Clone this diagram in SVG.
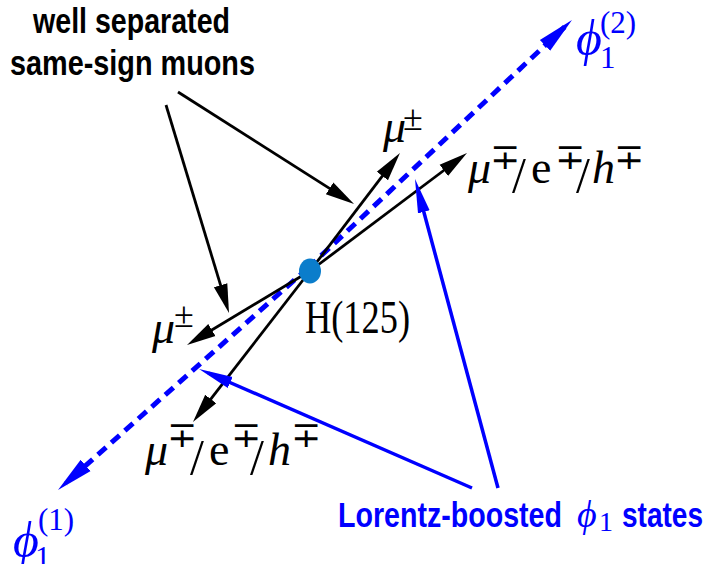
<svg xmlns="http://www.w3.org/2000/svg" width="708" height="564" viewBox="0 0 708 564">
<style>
.lab{font-family:"Liberation Sans Narrow","Liberation Sans",Arial,sans-serif;font-weight:bold;font-size:35px;fill:#000}
.blab{fill:#0000ff}
.m{font-family:"Liberation Serif","DejaVu Serif",serif;font-size:46px;font-weight:normal;fill:#000}
.mb{fill:#0000ff}
.i{font-style:italic}
.s{font-size:31px}
.pm{font-size:36px}
.sl{font-size:50px}
.bk{stroke:#000;stroke-width:2.8;fill:none}
.bl{stroke:#0000ff;stroke-width:3.5;fill:none}
.bd{stroke:#0000ff;stroke-width:5;fill:none;stroke-dasharray:11 7}
</style>
<defs>
<marker id="ak" markerUnits="userSpaceOnUse" markerWidth="40" markerHeight="20" viewBox="0 -10 40 20" refX="19" refY="0" orient="auto">
<path d="M0,-7 L29,0 L0,7 z" fill="#000"/>
</marker>
<marker id="ab" markerUnits="userSpaceOnUse" markerWidth="45" markerHeight="20" viewBox="0 -10 45 20" refX="24" refY="0" orient="auto">
<path d="M0,-6 L34,0 L0,6 z" fill="#0000ff"/>
</marker>
<marker id="ad" markerUnits="userSpaceOnUse" markerWidth="45" markerHeight="20" viewBox="0 -10 45 20" refX="27" refY="0" orient="auto">
<path d="M0,-7.5 L37,0 L0,7.5 z" fill="#0000ff"/>
</marker>
</defs>
<g id="connectors">
<path class="bd" d="M308,268 L564.7,26.9" marker-end="url(#ad)"/>
<path class="bd" d="M308,268 L65.5,483.4" marker-end="url(#ad)"/>
<path class="bk" d="M310,271 L393.9,160.9" marker-end="url(#ak)"/>
<path class="bk" d="M310,271 L459,159" marker-end="url(#ak)"/>
<path class="bk" d="M310,271 L195.6,339.8" marker-end="url(#ak)"/>
<path class="bk" d="M310,271 L199.1,414.1" marker-end="url(#ak)"/>
<path class="bk" d="M178,92 L345.6,198.6" marker-end="url(#ak)"/>
<path class="bk" d="M166,105 L226.1,303.4" marker-end="url(#ak)"/>
<path class="bl" d="M498,488 L417.6,188.7" marker-end="url(#ab)"/>
<path class="bl" d="M472,488 L208.2,373" marker-end="url(#ab)"/>
</g>
<g id="higgs">
<ellipse cx="310" cy="271" rx="11" ry="12.5" fill="#0b7dcb"/>
<text class="m" x="305" y="333" textLength="105" lengthAdjust="spacingAndGlyphs">H(125)</text>
</g>
<g id="label-muons">
<text class="lab" x="33" y="33" textLength="197" lengthAdjust="spacingAndGlyphs">well separated</text>
<text class="lab" x="10" y="75" textLength="245" lengthAdjust="spacingAndGlyphs">same-sign muons</text>
</g>
<g id="mu-up">
<text class="m"><tspan class="i" x="383" y="142">μ</tspan><tspan class="pm" x="403" y="130">±</tspan></text>
</g>
<g id="mu-down">
<text class="m"><tspan class="i" x="152" y="343">μ</tspan><tspan class="pm" x="174" y="327">±</tspan></text>
</g>
<g id="lep-up">
<text class="m"><tspan class="i" x="468" y="183">μ</tspan><tspan class="pm" x="490" y="169">∓</tspan><tspan class="sl" x="512" y="192">/</tspan><tspan x="531" y="183">e</tspan><tspan class="pm" x="555" y="169">∓</tspan><tspan class="sl" x="576" y="192">/</tspan><tspan class="i" x="592" y="183">h</tspan><tspan class="pm" x="614" y="169">∓</tspan></text>
</g>
<g id="lep-down">
<text class="m"><tspan class="i" x="145" y="465">μ</tspan><tspan class="pm" x="167" y="447">∓</tspan><tspan class="sl" x="190" y="474">/</tspan><tspan x="209" y="465">e</tspan><tspan class="pm" x="231" y="447">∓</tspan><tspan class="sl" x="250" y="474">/</tspan><tspan class="i" x="268" y="465">h</tspan><tspan class="pm" x="291" y="447">∓</tspan></text>
</g>
<g id="phi2">
<text class="m mb"><tspan class="i" x="576" y="55" style="font-size:50px">ϕ</tspan><tspan class="s" x="600" y="33">(2)</tspan><tspan class="s" x="600" y="68">1</tspan></text>
</g>
<g id="phi1">
<text class="m mb"><tspan class="i" x="13" y="557" style="font-size:50px">ϕ</tspan><tspan class="s" x="38" y="530">(1)</tspan><tspan class="s" x="35" y="568">1</tspan></text>
</g>
<g id="label-lorentz">
<text class="lab blab"><tspan x="338" y="527" textLength="224" lengthAdjust="spacingAndGlyphs">Lorentz-boosted</tspan><tspan class="m mb i" x="577" y="527" style="font-size:38px">ϕ</tspan><tspan class="m mb" x="599" y="531" style="font-size:28px">1</tspan><tspan x="622" y="527" textLength="81" lengthAdjust="spacingAndGlyphs">states</tspan></text>
</g>
</svg>
